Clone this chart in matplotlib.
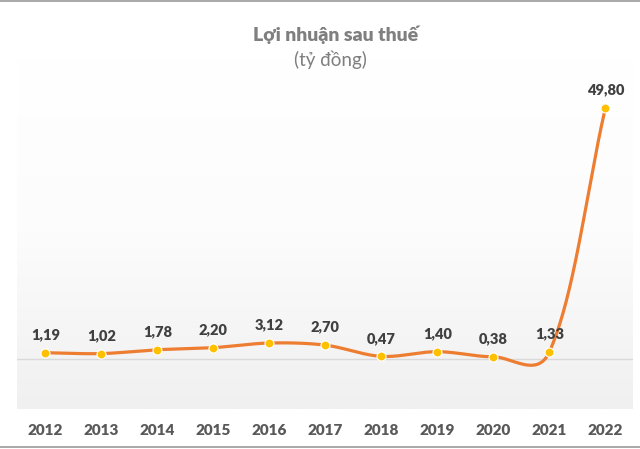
import numpy as np
import matplotlib
matplotlib.use('Agg')
import matplotlib.pyplot as plt
from matplotlib.lines import Line2D
from matplotlib.colors import LinearSegmentedColormap

plt.rcParams['font.family'] = ['Lato', 'DejaVu Sans']

years = ['2012', '2013', '2014', '2015', '2016', '2017', '2018', '2019', '2020', '2021', '2022']
profit = [1.19, 1.02, 1.78, 2.20, 3.12, 2.70, 0.47, 1.40, 0.38, 1.33, 49.80]
value_labels = ['1,19', '1,02', '1,78', '2,20', '3,12', '2,70', '0,47', '1,40', '0,38', '1,33', '49,80']
title = 'Lợi nhuận sau thuế'
subtitle = '(tỷ đồng)'

W, H = 640, 449
fig = plt.figure(figsize=(W / 100, H / 100), dpi=100)
ax = fig.add_axes([17.3 / W, (H - 409) / H, 616 / W, 352 / H])
ax.set_xlim(-0.5, 10.5)
ax.set_ylim(-10, 60)

# gradient plot-area background
cmap = LinearSegmentedColormap.from_list('bg', ['#ffffff', '#fcfcfc', '#f0f0f0'])
ax.imshow(np.linspace(0, 1, 256).reshape(-1, 1), extent=[-0.5, 10.5, -10, 60],
          aspect='auto', cmap=cmap, zorder=0)

ax.axhline(0, color='#d9d9d9', lw=1, zorder=1)

x = np.arange(len(years))


def smooth_path(xd, yd):
    P = ax.transData.transform(np.column_stack([xd, yd]))
    n = len(P)
    d = np.hypot(*np.diff(P, axis=0).T)
    s = np.sqrt(d)
    t = np.linspace(0, 1, 60)[:, None]
    out = [P[0:1]]
    for i in range(n - 1):
        p0, p1 = P[i], P[i + 1]
        pm = P[i - 1] if i > 0 else P[i]
        pp = P[i + 2] if i + 2 < n else P[i + 1]
        sm = s[i - 1] if i > 0 else 0
        sp = s[i + 1] if i + 2 < n else 0
        si = s[i]
        c1 = p0 + (p1 - pm) / 3 * si / (sm + si)
        c2 = p1 - (pp - p0) / 3 * si / (si + sp)
        B = (1 - t) ** 3 * p0 + 3 * (1 - t) ** 2 * t * c1 + 3 * (1 - t) * t ** 2 * c2 + t ** 3 * p1
        out.append(B[1:])
    pts = np.vstack(out)
    return ax.transData.inverted().transform(pts)


curve = smooth_path(x, np.array(profit))
ax.plot(curve[:, 0], curve[:, 1], color='#ED7D31', lw=2.3, solid_capstyle='round', zorder=2)
ax.plot(x, profit, 'o', ms=6.5, mfc='#FFC000', mec='white', mew=0.8, zorder=3)

for xi, v, lbl in zip(x, profit, value_labels):
    ax.annotate(lbl, (xi, v), xytext=(0, 13), textcoords='offset points',
                ha='center', va='center', fontsize=10.5, fontweight='heavy', color='#404040', zorder=4)

ax.set_xticks(x)
ax.set_xticklabels(years, fontsize=11, fontweight='heavy', color='#595959')
ax.set_yticks([])
ax.tick_params(axis='x', length=0, pad=11)
for sp in ax.spines.values():
    sp.set_visible(False)

fig.text(335.5 / W, 1 - 35 / H, title, ha='center', va='center', fontsize=14,
         fontweight='heavy', color='#7f7f7f')
fig.text(330.5 / W, 1 - 60 / H, subtitle, ha='center', va='center', fontsize=13.5,
         color='#7f7f7f')

fig.add_artist(Line2D([0, 1], [1 - 0.6 / H] * 2, transform=fig.transFigure, color='#999999', lw=1.2))
fig.add_artist(Line2D([0, 1], [(H - 447) / H] * 2, transform=fig.transFigure, color='#999999', lw=1.2))

fig.savefig('out.png', dpi=100)
